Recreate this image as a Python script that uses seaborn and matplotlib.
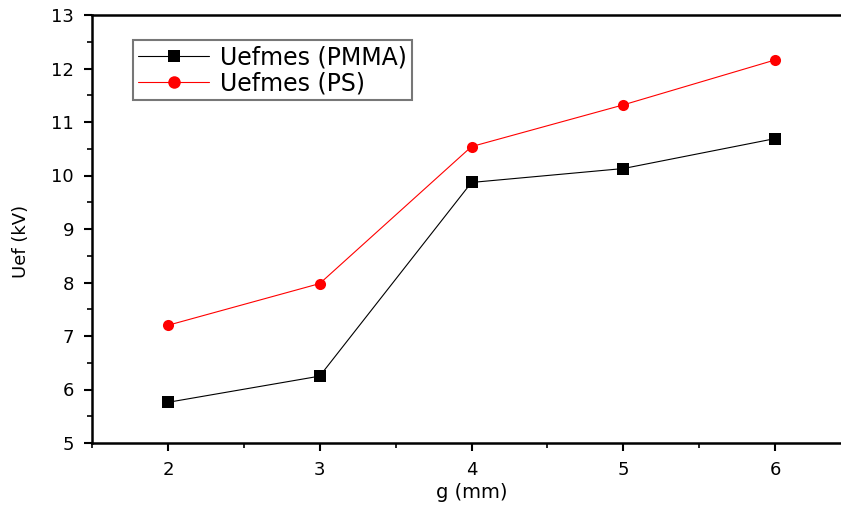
import matplotlib
matplotlib.use("Agg")
import matplotlib.pyplot as plt
from matplotlib.ticker import MultipleLocator
import seaborn as sns
import pandas as pd

gap_mm = [2, 3, 4, 5, 6]
uef_pmma = [5.76, 6.25, 9.87, 10.13, 10.69]
uef_ps = [7.20, 7.98, 10.54, 11.32, 12.16]
series_names = ["Uefmes (PMMA)", "Uefmes (PS)"]

df = pd.concat([
    pd.DataFrame({"g": gap_mm, "Uef": uef_pmma, "series": series_names[0]}),
    pd.DataFrame({"g": gap_mm, "Uef": uef_ps, "series": series_names[1]}),
])

sns.set_style("ticks")
plt.rcParams["font.family"] = ["DejaVu Sans"]
plt.rcParams["text.color"] = "black"
plt.rcParams["axes.labelcolor"] = "black"

fig = plt.figure(figsize=(8.41, 5.05), dpi=100)
ax = fig.add_axes([92 / 841, 62 / 505, 759 / 841, 428 / 505])

sns.lineplot(
    data=df, x="g", y="Uef", hue="series", style="series",
    palette={series_names[0]: "black", series_names[1]: "red"},
    markers={series_names[0]: "s", series_names[1]: "o"},
    dashes=False, markersize=8, linewidth=0.8,
    markeredgewidth=0, ax=ax,
)

ax.set_xlim(1.5, 6.5)
ax.set_ylim(5, 13)
ax.xaxis.set_major_locator(MultipleLocator(1))
ax.xaxis.set_minor_locator(MultipleLocator(0.5))
ax.yaxis.set_major_locator(MultipleLocator(1))
ax.yaxis.set_minor_locator(MultipleLocator(0.5))
ax.tick_params(which="major", direction="out", length=6, width=1.5, labelsize=13,
               colors="black", labelcolor="black")
ax.tick_params(which="minor", direction="out", length=3.5, width=1.2, colors="black")
ax.tick_params(axis="x", pad=7)
ax.tick_params(axis="y", pad=7)

for side in ["left", "bottom", "top"]:
    ax.spines[side].set_visible(True)
    ax.spines[side].set_linewidth(1.8)
    ax.spines[side].set_color("black")
ax.spines["right"].set_visible(False)

ax.set_xlabel("g (mm)", fontsize=14)
ax.xaxis.set_label_coords(0.5, -0.093)
ax.set_ylabel("Uef (kV)", fontsize=13)
ax.yaxis.set_label_coords(-0.082, 0.47)

leg = ax.legend(
    loc="upper left", bbox_to_anchor=(0.054, 0.9416), fontsize=17,
    frameon=True, fancybox=False, handlelength=3.0, borderpad=0.22,
    labelspacing=0.08, handletextpad=0.45, borderaxespad=0,
)
leg.get_frame().set_edgecolor("#555555")
leg.get_frame().set_linewidth(1.5)
for t in leg.get_texts():
    t.set_color("black")
for h in leg.get_lines():
    h.set_markersize(9)

fig.savefig("out.png", dpi=100)
